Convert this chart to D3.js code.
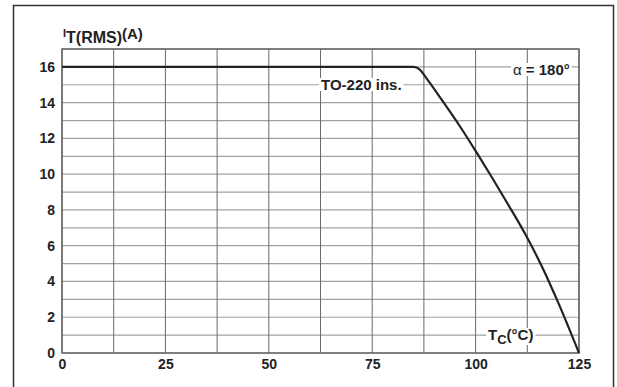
<html>

<head>
  <script src="https://d3js.org/d3.v7.min.js"></script>
  <style>
    body { margin: 0; background: #fff; }
    text { font-family: "Liberation Sans", Arial, sans-serif; fill: #222; }
  </style>
</head>

<body>
  <svg id="graph" width="617" height="387"></svg>

  <script>
    // case temperature (°C) and on-state rms current (A)
    const tempC = [0, 85, 86.5, 88, 92, 96, 100, 104, 108, 112, 116, 120, 125];
    const itRms = [16, 16, 15.85, 15.4, 14.1, 12.75, 11.3, 9.8, 8.25, 6.65, 4.85, 2.8, 0];

    const xTicks = [0, 25, 50, 75, 100, 125];
    const yTicks = [0, 2, 4, 6, 8, 10, 12, 14, 16];
    const xGrid = d3.range(0, 125.1, 12.5);
    const yGrid = d3.range(0, 17.1, 1);

    const svg = d3.select("svg#graph");
    const margins = { top: 49, right: 38, bottom: 34, left: 62 };
    const width = +svg.attr("width");
    const height = +svg.attr("height");

    const xScale = d3.scaleLinear().domain([0, 125]).range([margins.left, width - margins.right]);
    const yScale = d3.scaleLinear().domain([0, 17]).range([height - margins.bottom, margins.top]);

    // outer frame of the figure
    svg.append("path")
      .attr("d", "M13.5,400 L13.5,5.5 L613.5,5.5 L613.5,400")
      .attr("fill", "none")
      .attr("stroke", "#333")
      .attr("stroke-width", 1.5);

    // grid
    svg.append("g")
      .selectAll("line")
      .data(yGrid)
      .join("line")
      .attr("x1", xScale(0))
      .attr("x2", xScale(125))
      .attr("y1", d => yScale(d))
      .attr("y2", d => yScale(d))
      .attr("stroke", "#a0a0a0")
      .attr("stroke-width", 1.2);

    svg.append("g")
      .selectAll("line")
      .data(xGrid)
      .join("line")
      .attr("x1", d => xScale(d))
      .attr("x2", d => xScale(d))
      .attr("y1", yScale(0))
      .attr("y2", yScale(17))
      .attr("stroke", "#6a6a6a")
      .attr("stroke-width", 1);

    // plot border
    svg.append("rect")
      .attr("x", xScale(0))
      .attr("y", yScale(17))
      .attr("width", xScale(125) - xScale(0))
      .attr("height", yScale(0) - yScale(17))
      .attr("fill", "none")
      .attr("stroke", "#666")
      .attr("stroke-width", 1.5);

    // axes: only the labels, lines are the border above
    let bottomAxis = d3.axisBottom(xScale).tickValues(xTicks).tickSize(0).tickPadding(6);
    svg.append("g")
      .attr("transform", `translate(0, ${yScale(0)})`)
      .call(bottomAxis)
      .call(g => g.select(".domain").remove())
      .selectAll("text")
      .attr("font-size", 14)
      .attr("font-weight", "bold")
      .attr("font-family", null)
      .attr("fill", "#222");

    let leftAxis = d3.axisLeft(yScale).tickValues(yTicks).tickSize(0).tickPadding(7);
    svg.append("g")
      .attr("transform", `translate(${xScale(0)}, 0)`)
      .call(leftAxis)
      .call(g => g.select(".domain").remove())
      .selectAll("text")
      .attr("font-size", 14)
      .attr("font-weight", "bold")
      .attr("font-family", null)
      .attr("fill", "#222");

    // the derating curve
    const line = d3.line()
      .x((d, i) => xScale(tempC[i]))
      .y(d => yScale(d))
      .curve(d3.curveMonotoneX);

    svg.append("path")
      .datum(itRms)
      .attr("d", line)
      .attr("fill", "none")
      .attr("stroke", "#222")
      .attr("stroke-width", 2.2);

    // labels sitting on the grid with a white box behind them
    function boxedLabel(x, y, build) {
      const g = svg.append("g");
      const bg = g.append("rect").attr("fill", "#fff");
      const t = g.append("text").attr("x", x).attr("y", y)
        .attr("font-size", 15).attr("font-weight", "bold");
      build(t);
      const b = t.node().getBBox();
      bg.attr("x", b.x - 2).attr("y", b.y + 2).attr("width", b.width + 4).attr("height", b.height - 4);
    }

    boxedLabel(321, 90, t => t.text("TO-220 ins."));

    boxedLabel(513, 75, t => {
      t.append("tspan").attr("font-weight", "normal").text("α");
      t.append("tspan").text(" = 180°");
    });

    boxedLabel(488, 340, t => {
      t.append("tspan").text("T");
      t.append("tspan").attr("font-size", 13).attr("dy", 4).text("C");
      t.append("tspan").attr("dy", -4).text("(°C)");
    });

    // y axis title
    const yTitle = svg.append("text")
      .attr("x", 63)
      .attr("y", 37)
      .attr("font-weight", "bold");
    yTitle.append("tspan").attr("font-size", 11).text("I");
    yTitle.append("tspan").attr("font-size", 16).attr("dy", 6).text("T(RMS)");
    yTitle.append("tspan").attr("font-size", 15).attr("dy", -4).text("(A)");
  </script>

</body>

</html>
